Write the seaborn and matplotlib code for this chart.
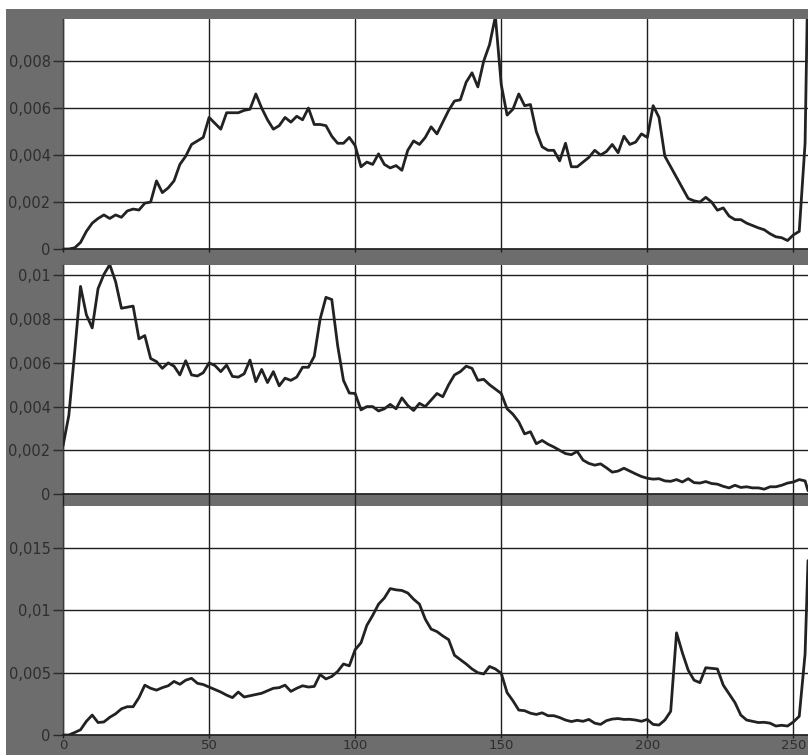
import numpy as np
import pandas as pd
import matplotlib
matplotlib.use("Agg")
import matplotlib.pyplot as plt
import seaborn as sns
from matplotlib.ticker import FuncFormatter, MultipleLocator
from matplotlib.patches import Rectangle

# bins (x positions) shared by all three histograms
bins = list(range(0, 256, 2)) + [255]

# values in units of 1e-3
hist_top = [
    0, 0, 0.05, 0.28, 0.75, 1.1, 1.3, 1.45, 1.3, 1.45,
    1.35, 1.62, 1.7, 1.66, 1.95, 2.0, 2.9, 2.4, 2.6, 2.9,
    3.6, 3.95, 4.45, 4.6, 4.75, 5.6, 5.35, 5.1, 5.8, 5.8,
    5.8, 5.9, 5.95, 6.6, 6.0, 5.5, 5.1, 5.25, 5.6, 5.4,
    5.65, 5.5, 6.0, 5.3, 5.3, 5.25, 4.8, 4.5, 4.5, 4.75,
    4.4, 3.5, 3.7, 3.6, 4.05, 3.6, 3.45, 3.55, 3.35, 4.2,
    4.6, 4.45, 4.75, 5.2, 4.9, 5.4, 5.9, 6.3, 6.35, 7.1,
    7.5, 6.9, 8.0, 8.7, 9.9, 7.0, 5.7, 5.95, 6.6, 6.1,
    6.15, 5.0, 4.35, 4.2, 4.2, 3.75, 4.5, 3.5, 3.5, 3.7,
    3.9, 4.2, 4.0, 4.15, 4.45, 4.1, 4.8, 4.45, 4.55, 4.9,
    4.75, 6.1, 5.6, 3.95, 3.5, 3.05, 2.6, 2.15, 2.05, 2.0,
    2.2, 2.0, 1.65, 1.75, 1.4, 1.25, 1.25, 1.1, 1.0, 0.9,
    0.82, 0.65, 0.52, 0.48, 0.36, 0.6, 0.75, 4.5, 12.0,
]

hist_mid = [
    2.2, 3.6, 6.5, 9.5, 8.2, 7.6, 9.4, 10.05, 10.5, 9.72,
    8.5, 8.55, 8.6, 7.1, 7.25, 6.2, 6.06, 5.75, 6.0, 5.85,
    5.45, 6.1, 5.45, 5.4, 5.55, 6.0, 5.88, 5.6, 5.9, 5.38,
    5.35, 5.5, 6.13, 5.14, 5.7, 5.1, 5.6, 4.95, 5.3, 5.2,
    5.35, 5.8, 5.8, 6.3, 8.0, 9.0, 8.9, 6.8, 5.2, 4.62,
    4.6, 3.85, 4.0, 4.0, 3.8, 3.9, 4.1, 3.9, 4.4, 4.05,
    3.82, 4.15, 4.0, 4.3, 4.6, 4.45, 5.0, 5.45, 5.6, 5.85,
    5.75, 5.2, 5.25, 5.0, 4.8, 4.6, 3.9, 3.65, 3.3, 2.75,
    2.85, 2.3, 2.45, 2.28, 2.15, 2.0, 1.85, 1.8, 1.95, 1.55,
    1.4, 1.32, 1.38, 1.2, 1.0, 1.05, 1.18, 1.05, 0.92, 0.8,
    0.72, 0.68, 0.7, 0.6, 0.58, 0.66, 0.55, 0.7, 0.52, 0.5,
    0.57, 0.48, 0.45, 0.35, 0.28, 0.4, 0.3, 0.33, 0.28, 0.28,
    0.22, 0.33, 0.33, 0.4, 0.5, 0.55, 0.66, 0.6, 0.15,
]

hist_bot = [
    0, 0, 0.2, 0.42, 1.1, 1.6, 1.0, 1.05, 1.42, 1.7,
    2.1, 2.27, 2.27, 3.0, 4.0, 3.75, 3.6, 3.8, 3.95, 4.3,
    4.07, 4.4, 4.55, 4.15, 4.05, 3.85, 3.65, 3.45, 3.2, 3.0,
    3.45, 3.05, 3.15, 3.25, 3.35, 3.55, 3.75, 3.8, 4.0, 3.5,
    3.75, 3.95, 3.85, 3.9, 4.85, 4.5, 4.7, 5.1, 5.7, 5.55,
    6.85, 7.4, 8.8, 9.6, 10.5, 11.0, 11.75, 11.65, 11.6, 11.4,
    10.9, 10.5, 9.3, 8.5, 8.3, 7.95, 7.65, 6.4, 6.05, 5.7,
    5.3, 5.0, 4.9, 5.5, 5.3, 4.95, 3.4, 2.75, 2.0, 1.95,
    1.75, 1.65, 1.78, 1.55, 1.55, 1.4, 1.2, 1.08, 1.18, 1.1,
    1.25, 0.95, 0.85, 1.15, 1.28, 1.32, 1.25, 1.26, 1.2, 1.1,
    1.25, 0.85, 0.8, 1.2, 1.9, 8.2, 6.6, 5.2, 4.4, 4.2,
    5.4, 5.35, 5.3, 4.0, 3.3, 2.6, 1.6, 1.2, 1.1, 1.0,
    1.02, 0.95, 0.72, 0.78, 0.72, 1.05, 1.5, 6.5, 14.0,
]

panels = [
    (hist_top, 0.00979, 0.002),
    (hist_mid, 0.01048, 0.002),
    (hist_bot, 0.01838, 0.005),
]

W, H = 808, 755
fig = plt.figure(figsize=(W / 100, H / 100), dpi=100)
fig.patch.set_facecolor("white")

GRAY = "#6d6d6d"
fig.patches.append(Rectangle((6 / W, 0), 1 - 6 / W, 1 - 9 / H,
                             transform=fig.transFigure, facecolor=GRAY,
                             edgecolor="none", zorder=-10))

sns.set_style("white")
plt.rcParams["font.family"] = ["DejaVu Sans"]

# axes rectangles in pixels: (top, bottom)
rects = [(19, 249), (265, 494), (506, 735)]
left_px = 63

fmt = FuncFormatter(lambda v, p: f"{v:g}".replace(".", ","))

for i, ((vals, ytop, ystep), (t, b)) in enumerate(zip(panels, rects)):
    ax = fig.add_axes([left_px / W, 1 - b / H, (W - left_px) / W, (b - t) / H])
    ax.set_facecolor("white")
    df = pd.DataFrame({"bin": bins, "value": np.array(vals) * 1e-3})
    sns.lineplot(data=df, x="bin", y="value", ax=ax, color="#222222",
                 linewidth=2.0, zorder=3)
    ax.set_xlim(0, 255)
    ax.set_ylim(0, ytop)
    ax.xaxis.set_major_locator(MultipleLocator(50))
    ax.yaxis.set_major_locator(MultipleLocator(ystep))
    ax.yaxis.set_major_formatter(fmt)
    ax.grid(True, color="#1e1e1e", linewidth=1.0, zorder=1)
    ax.set_axisbelow(True)
    ax.set_xlabel("")
    ax.set_ylabel("")
    for s in ["top", "right"]:
        ax.spines[s].set_visible(False)
    ax.spines["left"].set_color("#3a3a3a")
    ax.spines["left"].set_linewidth(1.0)
    ax.spines["bottom"].set_color("#1e1e1e")
    ax.spines["bottom"].set_linewidth(1.2)
    ax.tick_params(axis="y", direction="out", length=7.5, width=1.0,
                   color="#2a2a2a", labelsize=10.5, labelcolor="#2e2e2e", pad=1.5,
                   left=True)
    xlen = [2.5, 9, 2.0][i]
    ax.tick_params(axis="x", direction="out", length=xlen, width=1.0,
                   color="#1e1e1e", labelsize=9.5, labelcolor="#2e2e2e", pad=0.8,
                   bottom=True, labelbottom=(i == 2))

fig.savefig("out.png", dpi=100, facecolor=fig.get_facecolor())
